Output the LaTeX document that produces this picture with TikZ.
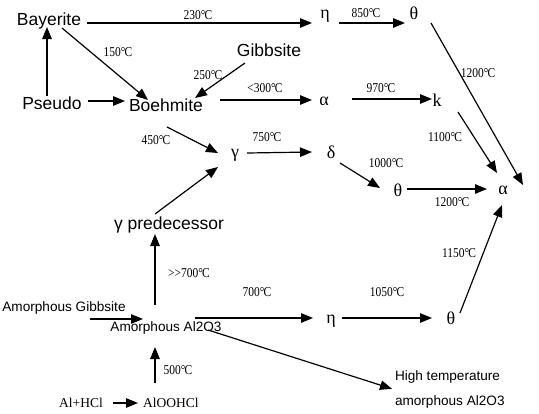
\documentclass[tikz,border=0pt]{standalone}
\usepackage{fontspec}
\setmainfont{Liberation Serif}
\newfontfamily\labelfont{Liberation Sans}
\newfontfamily\tempfont[FakeStretch=0.85]{Liberation Serif}
\usetikzlibrary{arrows.meta,calc}
\newcommand\degc{\textdegree\kern-.06em C}

\begin{document}
\begin{tikzpicture}[x=1pt, y=-1pt,
    every node/.style = {inner sep=0pt, outer sep=0pt},
    phase/.style   = {font=\labelfont\fontsize{17.5}{20}\selectfont, text depth=0pt},
    amorph/.style  = {font=\labelfont\fontsize{13.6}{25}\selectfont},
    greek/.style   = {font=\fontsize{18}{20}\selectfont},
    temp/.style    = {font=\tempfont\fontsize{13.5}{15}\selectfont},
    react/.style   = {font=\fontsize{13.5}{15}\selectfont},
    conv/.style    = {-{Triangle[length=12pt,width=9.5pt]}, line width=1.2pt},
  ]
  \useasboundingbox (0,0) rectangle (539,413);

  \node[phase] (bay)    at (49,19)  {Bayerite};
  \node[phase] (pseudo) at (52,103) {Pseudo};
  \node[phase] (boeh)   at (166,105) {Boehmite};
  \node[phase] (gibb)   at (269,50) {Gibbsite};
  \node[phase] (gpred)  at (169,223) {γ predecessor};
  \node[greek] (eta1)   at (325,16) {η};
  \node[greek] (theta1) at (414,13) {θ};
  \node[greek] (alpha1) at (324,101) {α};
  \node[greek] (kk)     at (437,100) {k};
  \node[greek] (gam)    at (235,155) {γ};
  \node[greek] (delta)  at (331,152) {δ};
  \node[greek] (theta2) at (398,190) {θ};
  \node[greek] (alpha3) at (503,190) {α};
  \node[greek] (eta3)   at (331,321) {η};
  \node[greek] (theta3) at (451,318) {θ};
  \node[amorph] (amgibb) at (64,308) {Amorphous Gibbsite};
  \node[amorph] (amal)   at (166,328) {Amorphous Al2O3};
  \node[amorph, align=left, anchor=north west] (hight) at (395,371)
    {High temperature\\amorphous Al2O3};
  \node[react] (alhcl) at (81,403)  {Al+HCl};
  \node[react] (alooh) at (171,403) {AlOOHCl};

  \node[temp] (t230)   at (198,15)  {230\degc};
  \node[temp] (t850)   at (366,13)  {850\degc};
  \node[temp] (t150)   at (118,52)  {150\degc};
  \node[temp] (t250)   at (208,75)  {250\degc};
  \node[temp] (t300)   at (265,88)  {<300\degc};
  \node[temp] (t970)   at (381,88)  {970\degc};
  \node[temp] (t1200a) at (478,73)  {1200\degc};
  \node[temp] (t1100)  at (445,137) {1100\degc};
  \node[temp] (t450)   at (156,140) {450\degc};
  \node[temp] (t750)   at (267,137) {750\degc};
  \node[temp] (t1000)  at (386,163) {1000\degc};
  \node[temp] (t1200b) at (452,202) {1200\degc};
  \node[temp] (t1150)  at (459,253) {1150\degc};
  \node[temp] (t700hi) at (189,273) {>{}>700\degc};
  \node[temp] (t700)   at (257,292) {700\degc};
  \node[temp] (t1050)  at (387,292) {1050\degc};
  \node[temp] (t500)   at (178,370) {500\degc};

  \draw[conv] ($(bay)+(38,4)$)      -- ($(eta1)+(-13,7)$);
  \draw[conv] ($(eta1)+(14,7)$)     -- ($(theta1)+(-9,10)$);
  \draw[conv] ($(theta1)+(17,10)$)  -- ($(alpha3)+(20,-5)$);
  \draw[conv] ($(pseudo)+(-5,-7)$)  -- ($(bay)+(-2,8)$);
  \draw[conv] ($(bay)+(13,9)$)      -- ($(boeh)+(-18,-5)$);
  \draw[conv] ($(pseudo)+(36,-2)$)  -- ($(boeh)+(-41,-4)$);
  \draw[conv] ($(gibb)+(-24,13)$)   -- ($(boeh)+(29,-7)$);
  \draw[conv] ($(boeh)+(54,-5)$)    -- ($(alpha1)+(-12,-1)$);
  \draw[conv] ($(alpha1)+(28,-2)$)  -- ($(kk)+(-5,-1)$);
  \draw[conv] ($(kk)+(21,12)$)      -- ($(alpha3)+(-6,-17)$);
  \draw[conv] ($(boeh)+(1,22)$)     -- ($(gam)+(-17,-2)$);
  \draw[conv] ($(gpred)+(-14,-9)$)  -- ($(gam)+(-17,12)$);
  \draw[conv] ($(gam)+(12,-2)$)     -- ($(delta)+(-19,0)$);
  \draw[conv] ($(delta)+(9,11)$)    -- ($(theta2)+(-18,-2)$);
  \draw[conv] ($(theta2)+(9,-1)$)   -- ($(alpha3)+(-16,-1)$);
  \draw[conv] ($(theta3)+(9,-5)$)   -- ($(alpha3)+(-1,15)$);
  \draw[conv] ($(amgibb)+(26,11)$)  -- ($(amal)+(-23,-9)$);
  \draw[conv] ($(amal)+(-11,-23)$)  -- ($(gpred)+(-14,11)$);
  \draw[conv] ($(amal)+(29,-10)$)   -- ($(eta3)+(-18,-3)$);
  \draw[conv] ($(eta3)+(11,-3)$)    -- ($(theta3)+(-19,0)$);
  \draw[conv] ($(amal)+(42,2)$)     -- ($(hight.west)+(-3,-1)$);
  \draw[conv] ($(alooh)+(-16,-20)$) -- ($(amal)+(-11,19)$);
  \draw[conv] ($(alhcl)+(32,0)$)    -- ($(alooh)+(-33,0)$);
\end{tikzpicture}
\end{document}
